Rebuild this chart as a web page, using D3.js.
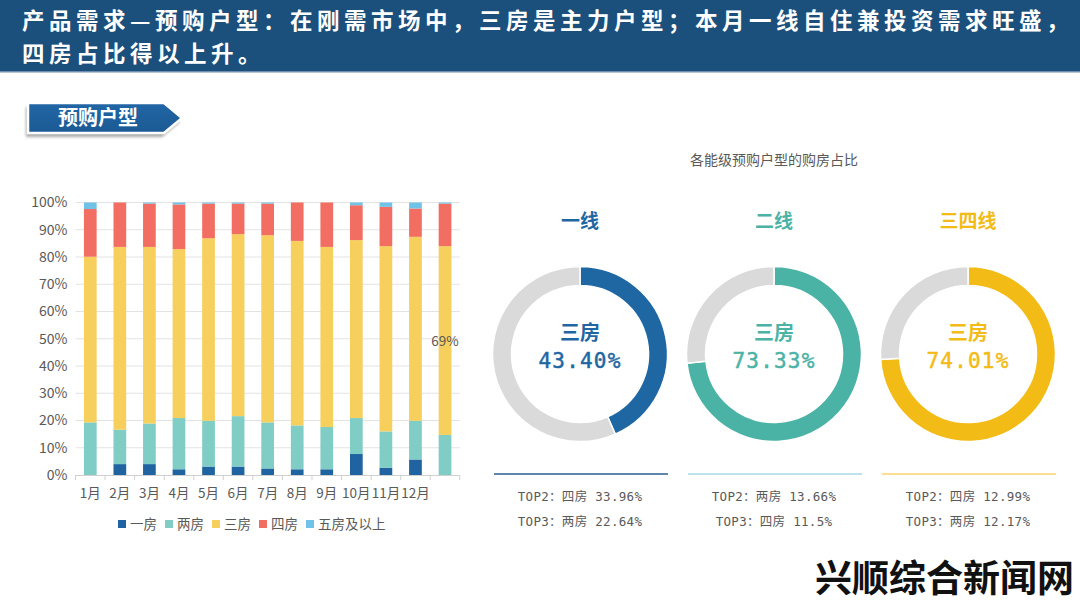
<!DOCTYPE html>
<html>
<head>
<meta charset="utf-8">
<script src="https://cdn.jsdelivr.net/npm/d3@7"></script>
<style>
  html,body{margin:0;padding:0;background:#fff;}
  svg{display:block;}
</style>
</head>
<body>
<svg id="chart" width="1080" height="608"></svg>
<script>
// ---------- data ----------
const months = ["1月","2月","3月","4月","5月","6月","7月","8月","9月","10月","11月","12月",""];
const seriesNames = ["一房","两房","三房","四房","五房及以上"];
const oneRoom   = [0,   4.0, 4.0, 2.1, 3.1, 3.1, 2.4, 2.1, 2.1, 7.7, 2.7, 5.7, 0];
const twoRoom   = [19.3,12.6,14.9,18.8,16.8,18.5,16.9,16.1,15.5,13.2,13.3,14.2,14.7];
const threeRoom = [60.8,67.1,64.8,62.0,67.0,66.8,68.7,67.7,66.1,65.3,68.0,67.5,69.3];
const fourRoom  = [17.5,16.3,15.9,16.4,12.7,11.2,11.6,14.1,16.3,12.8,14.4,10.4,15.6];
const fiveRoom  = [2.4, 0,   0.4, 0.7, 0.4, 0.4, 0.4, 0,   0,   1.0, 1.6, 2.2, 0.4];
const yTicks = [0,10,20,30,40,50,60,70,80,90,100];

const tiers = ["一线","二线","三四线"];
const mainType = ["三房","三房","三房"];
const mainShare = [43.40, 73.33, 74.01];
const top2Type = ["四房","两房","四房"];
const top2Share = ["33.96","13.66","12.99"];
const top3Type = ["两房","四房","两房"];
const top3Share = ["22.64","11.5","12.17"];

const titleLines = ["产品需求—预购户型：在刚需市场中，三房是主力户型；本月一线自住兼投资需求旺盛，","四房占比得以上升。"];
const sectionLabel = "预购户型";
const donutTitle = "各能级预购户型的购房占比";
const watermark = "兴顺综合新闻网";

// ---------- styles ----------
const barColors = ["#1f64a0","#7fcdc5","#f7cf5c","#f26e63","#70c3e6"];
const tierColors = ["#1f67a3","#4bb3a6","#f3bb15"];
const tierLineColors = ["#2a5f93","#a8d8e4","#f6d56e"];
const CJK = "'Noto Sans CJK SC','Noto Sans',sans-serif";
const MONO = "'DejaVu Sans Mono','Noto Sans CJK SC',monospace";

const svg = d3.select("#chart");

// ---------- header ----------
svg.append("rect").attr("x",0).attr("y",0).attr("width",1080).attr("height",72).attr("fill","#1b4f7c");
svg.append("rect").attr("x",0).attr("y",71).attr("width",1080).attr("height",1.5).attr("fill","#6f8fb0");
svg.selectAll("text.title").data(titleLines).enter().append("text")
  .attr("class","title")
  .attr("x",22).attr("y",(d,i)=>28.5+i*33)
  .attr("fill","#fff").attr("font-family",CJK).attr("font-size",22.5).attr("letter-spacing",4.5).attr("font-weight",700)
  .text(d=>d);

// ---------- section label ----------
const defs = svg.append("defs");
const f = defs.append("filter").attr("id","sh").attr("x","-20%").attr("y","-30%").attr("width","140%").attr("height","180%");
f.append("feGaussianBlur").attr("stdDeviation",1.5);
const grad = defs.append("linearGradient").attr("id","lg").attr("x1",0).attr("y1",0).attr("x2",0).attr("y2",1);
grad.append("stop").attr("offset","0%").attr("stop-color","#2166a6");
grad.append("stop").attr("offset","100%").attr("stop-color","#1b5a93");
const arrowPts = [[28,103],[164,103],[182,118],[164,133],[28,133]];
svg.append("polygon").attr("points",arrowPts.map(p=>[p[0]-2,p[1]+4].join(",")).join(" "))
  .attr("fill","#a9a9a9").attr("filter","url(#sh)");
svg.append("polygon").attr("points",arrowPts.map(p=>p.join(",")).join(" "))
  .attr("fill","url(#lg)").attr("stroke","#fff").attr("stroke-width",2.5);
svg.append("text").attr("x",98).attr("y",125).attr("text-anchor","middle")
  .attr("fill","#fff").attr("font-family",CJK).attr("font-size",20).attr("font-weight",700)
  .text(sectionLabel);

// ---------- stacked bar chart ----------
const series = [oneRoom,twoRoom,threeRoom,fourRoom,fiveRoom];
const x = d3.scaleBand().domain(d3.range(months.length)).range([75.5,459.8]).paddingInner(0.57).paddingOuter(0.285);
const y = d3.scaleLinear().domain([0,100]).range([475,202.5]);

const g = svg.append("g");
// grid
g.selectAll("line.grid").data(yTicks.filter(t=>t>0)).enter().append("line")
  .attr("x1",75.5).attr("x2",459.8).attr("y1",d=>y(d)).attr("y2",d=>y(d))
  .attr("stroke","#e3e3e3").attr("stroke-width",1);
// y axis labels
const yAxis = d3.axisLeft(y).tickValues(yTicks).tickFormat(d=>d+"%").tickSize(0).tickPadding(8);
const ya = g.append("g").attr("transform","translate(75.5,0)").call(yAxis);
ya.select(".domain").remove();
ya.selectAll("text").attr("font-family",CJK).attr("font-size",14).attr("fill","#595959");

// stacking
const rows = months.map((m,i)=>{const o={idx:i}; seriesNames.forEach((s,k)=>o[s]=series[k][i]); return o;});
const stack = d3.stack().keys(seriesNames)(rows);
g.selectAll("g.layer").data(stack).enter().append("g")
  .attr("fill",(d,i)=>barColors[i])
  .selectAll("rect").data(d=>d).enter().append("rect")
  .attr("x",d=>x(d.data.idx)).attr("width",x.bandwidth())
  .attr("y",d=>y(d[1])).attr("height",d=>Math.max(0,y(d[0])-y(d[1])));

// x axis
const xa = g.append("g").attr("transform","translate(0,475)");
xa.append("line").attr("x1",75.5).attr("x2",459.8).attr("y1",0.5).attr("y2",0.5).attr("stroke","#d0d0d0");
xa.selectAll("line.tk").data(d3.range(months.length+1)).enter().append("line")
  .attr("x1",d=>75.5+d*x.step()).attr("x2",d=>75.5+d*x.step()).attr("y1",0).attr("y2",5)
  .attr("stroke","#d0d0d0");
xa.selectAll("text").data(months).enter().append("text")
  .attr("x",(d,i)=>x(i)+x.bandwidth()/2).attr("y",23).attr("text-anchor","middle")
  .attr("font-family",CJK).attr("font-size",13.5).attr("fill","#595959").text(d=>d);

// data label on last 三房 segment
const lastIdx = months.length-1;
const s3 = stack[2][lastIdx];
g.append("text").attr("x",x(lastIdx)+x.bandwidth()/2).attr("y",(y(s3[0])+y(s3[1]))/2+5)
  .attr("text-anchor","middle").attr("font-family",CJK).attr("font-size",13.5).attr("fill","#595959")
  .text(Math.round(threeRoom[lastIdx])+"%");

// legend
const lg = g.append("g").attr("transform","translate(118,525)");
let lx = 0;
seriesNames.forEach((n,i)=>{
  lg.append("rect").attr("x",lx).attr("y",-5).attr("width",8).attr("height",8).attr("fill",barColors[i]);
  const t = lg.append("text").attr("x",lx+12).attr("y",4).attr("font-family",CJK).attr("font-size",13.5)
    .attr("fill","#595959").text(n);
  lx += 12 + t.node().getComputedTextLength() + 8;
});

// ---------- donuts ----------
svg.append("text").attr("x",774).attr("y",165).attr("text-anchor","middle")
  .attr("font-family",CJK).attr("font-size",14).attr("fill","#595959").text(donutTitle);

const cxs = [580,774,968];
const cy = 354;
const arc = d3.arc().innerRadius(68.5).outerRadius(87.5);
const pie = d3.pie().sort(null).value(d=>d);
tiers.forEach((t,i)=>{
  const cx = cxs[i];
  const dg = svg.append("g").attr("transform",`translate(${cx},${cy})`);
  dg.selectAll("path").data(pie([mainShare[i],100-mainShare[i]])).enter().append("path")
    .attr("d",arc).attr("fill",(d,k)=>k===0?tierColors[i]:"#dadada")
    .attr("stroke","#fff").attr("stroke-width",1.5);
  dg.append("text").attr("y",-14).attr("text-anchor","middle").attr("font-family",CJK)
    .attr("font-size",20).attr("font-weight",700).attr("fill",tierColors[i]).text(mainType[i]);
  dg.append("text").attr("y",14).attr("text-anchor","middle").attr("font-family",MONO)
    .attr("font-size",21).attr("letter-spacing",1.2).attr("fill",tierColors[i])
    .attr("stroke",tierColors[i]).attr("stroke-width",0.5)
    .text(mainShare[i].toFixed(2)+"%");
  svg.append("text").attr("x",cx).attr("y",228).attr("text-anchor","middle").attr("font-family",CJK)
    .attr("font-size",19).attr("font-weight",700).attr("fill",tierColors[i]).text(t);
  svg.append("line").attr("x1",cx-86).attr("x2",cx+88).attr("y1",474).attr("y2",474)
    .attr("stroke",tierLineColors[i]).attr("stroke-width",1.5);
  svg.append("text").attr("x",cx).attr("y",501).attr("text-anchor","middle").attr("font-family",MONO)
    .attr("font-size",12.5).attr("letter-spacing",0.3).attr("fill","#595959")
    .text("TOP2："+top2Type[i]+" "+top2Share[i]+"%");
  svg.append("text").attr("x",cx).attr("y",526).attr("text-anchor","middle").attr("font-family",MONO)
    .attr("font-size",12.5).attr("letter-spacing",0.3).attr("fill","#595959")
    .text("TOP3："+top3Type[i]+" "+top3Share[i]+"%");
});

// ---------- site watermark ----------
svg.append("text").attr("x",1074).attr("y",592).attr("text-anchor","end")
  .attr("font-family",CJK).attr("font-size",37).attr("font-weight",700)
  .attr("fill","#111").attr("stroke","#fff").attr("stroke-width",4).attr("paint-order","stroke")
  .text(watermark);
</script>
</body>
</html>
